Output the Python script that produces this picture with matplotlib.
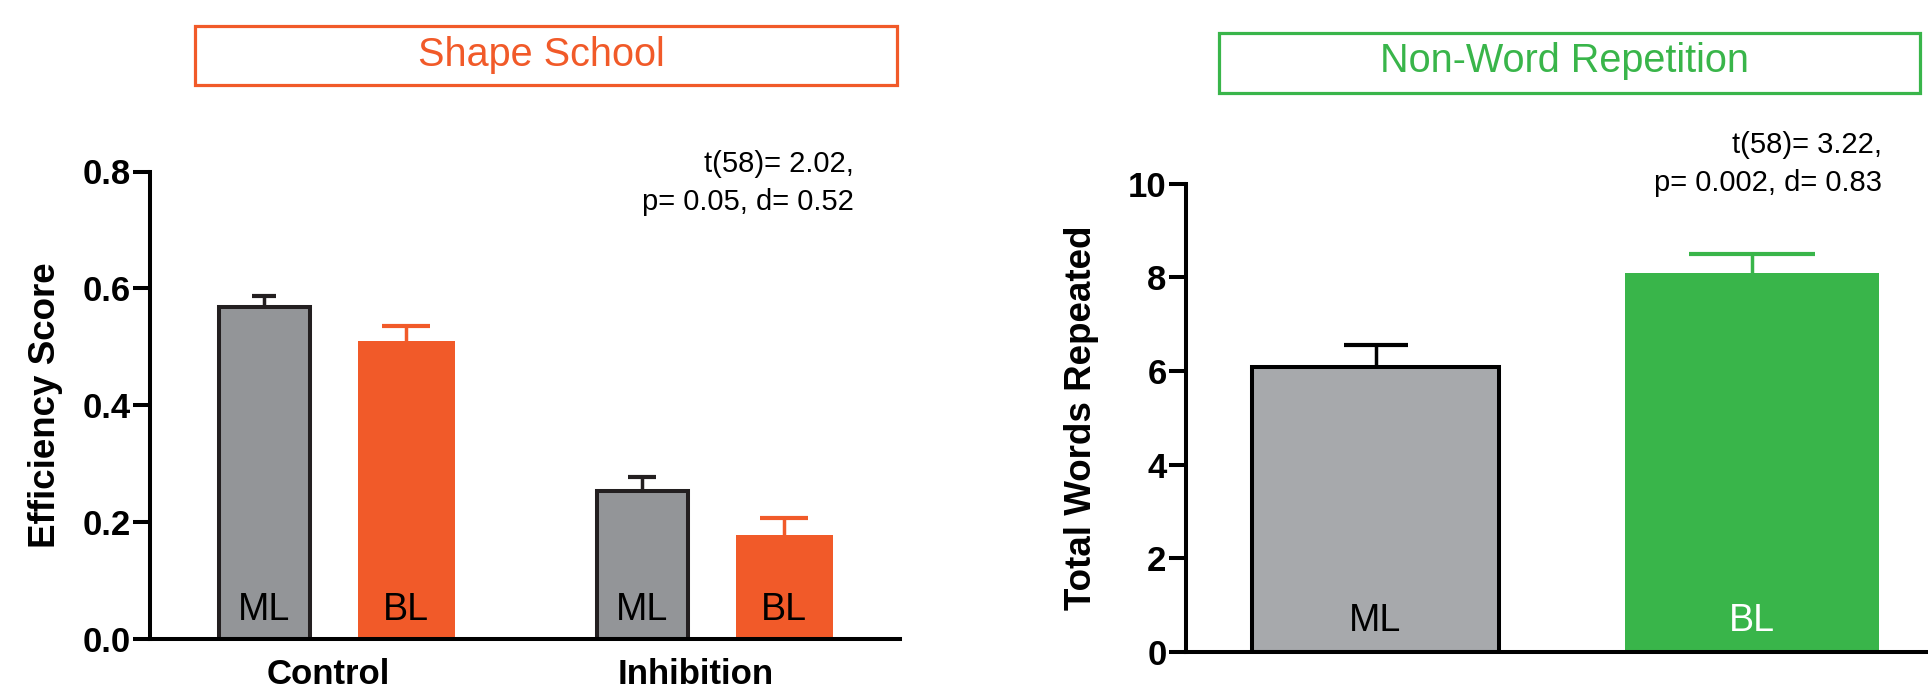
import numpy as np
import matplotlib
matplotlib.use("Agg")
import matplotlib.pyplot as plt
from matplotlib.patches import Rectangle

plt.rcParams['font.family'] = ['Liberation Sans', 'DejaVu Sans']

# Shape School data (efficiency score, mean + SEM)
groups = ["Control", "Inhibition"]
shape_ml = [0.568, 0.252]
shape_ml_err = [0.019, 0.024]
shape_bl = [0.510, 0.178]
shape_bl_err = [0.026, 0.029]
shape_stats = ["t(58)= 2.02,", "p= 0.05, d= 0.52"]

# Non-Word Repetition data (total words repeated, mean + SEM)
nwr_groups = ["ML", "BL"]
nwr_means = [6.08, 8.10]
nwr_err = [0.48, 0.39]
nwr_stats = ["t(58)= 3.22,", "p= 0.002, d= 0.83"]

gray1 = "#939598"
gray2 = "#a7a9ac"
orange = "#f15a29"
green = "#39b54a"
dark = "#231f20"

W, H = 1928, 693
fig = plt.figure(figsize=(W / 100, H / 100), dpi=100)

ax1 = fig.add_axes([150 / W, 1 - 638.5 / H, 750 / W, 467 / H])
ax2 = fig.add_axes([1186 / W, 1 - 651.8 / H, 1 - 1186 / W, 468.2 / H])

for ax in (ax1, ax2):
    for s in ("top", "right"):
        ax.spines[s].set_visible(False)
    for s in ("left", "bottom"):
        ax.spines[s].set_linewidth(2.9)
        ax.spines[s].set_color("black")
    ax.tick_params(axis="y", length=12, width=2.9, pad=2, labelsize=25)
    ax.tick_params(axis="x", length=0, labelsize=25, pad=14)


def up_err(ax, x, y, e, color, cap):
    # one-sided (upward) error bar, lower cap hidden
    _, caps, _ = ax.errorbar(x, y, yerr=[[0], [e]], fmt="none", ecolor=color,
                             elinewidth=2.5, capsize=cap, capthick=3, zorder=1)
    caps[0].set_visible(False)


# ---- left panel: Shape School
centers = np.array([1.85, 5.63])
off = 0.71
x_ml = centers - off
x_bl = centers + off
ax1.bar(x_ml, shape_ml, width=0.91, color=gray1, edgecolor=dark, linewidth=2.9, zorder=2)
ax1.bar(x_bl, shape_bl, width=0.97, color=orange, edgecolor="none", zorder=2)
caps_ml = [8.8, 10.4]
caps_bl = [17.3, 17.3]
for i in range(2):
    up_err(ax1, x_ml[i], shape_ml[i], shape_ml_err[i], dark, caps_ml[i])
    up_err(ax1, x_bl[i], shape_bl[i], shape_bl_err[i], orange, caps_bl[i])
    ax1.annotate("ML", xy=(x_ml[i], 0), xytext=(0, 13.5), textcoords="offset points",
                 ha="center", va="baseline", fontsize=27, color="black", zorder=3)
    ax1.annotate("BL", xy=(x_bl[i], 0), xytext=(0, 13.5), textcoords="offset points",
                 ha="center", va="baseline", fontsize=27, color="black", zorder=3)

ax1.set_xlim(0, 7.5)
ax1.set_ylim(0, 0.8)
ax1.set_yticks([0, 0.2, 0.4, 0.6, 0.8])
ax1.set_yticklabels(["0.0", "0.2", "0.4", "0.6", "0.8"], fontweight="bold", fontsize=25)
ax1.set_xticks([1.78, 5.46])
ax1.set_xticklabels(groups, fontweight="bold", fontsize=25)
ax1.set_ylabel("Efficiency Score", fontsize=26.5, fontweight="bold", va="center")
ax1.yaxis.set_label_coords(-0.139, 0.5)

# ---- right panel: Non-Word Repetition
xr = np.array([1.895, 5.66])
ax2.bar(xr[0], nwr_means[0], width=2.47, color=gray2, edgecolor="black", linewidth=2.9, zorder=2)
ax2.bar(xr[1], nwr_means[1], width=2.535, color=green, edgecolor="none", zorder=2)
up_err(ax2, xr[0], nwr_means[0], nwr_err[0], "black", 22.7)
up_err(ax2, xr[1], nwr_means[1], nwr_err[1], green, 45.4)
ax2.annotate(nwr_groups[0], xy=(xr[0], 0), xytext=(0, 15), textcoords="offset points",
             ha="center", va="baseline", fontsize=27, color="black", zorder=3)
ax2.annotate(nwr_groups[1], xy=(xr[1], 0), xytext=(0, 15), textcoords="offset points",
             ha="center", va="baseline", fontsize=27, color="white", zorder=3)

ax2.set_xlim(0, 7.42)
ax2.set_ylim(0, 10)
ax2.set_yticks([0, 2, 4, 6, 8, 10])
ax2.set_yticklabels(["0", "2", "4", "6", "8", "10"], fontweight="bold", fontsize=25)
ax2.set_xticks([])
ax2.set_ylabel("Total Words Repeated", fontsize=26.5, fontweight="bold", va="center")
ax2.yaxis.set_label_coords(-0.1415, 0.5)

# stats text (one line at a time, baselines)
for line, yb in zip(shape_stats, [172.5, 210.5]):
    fig.text(854 / W, 1 - yb / H, line, ha="right", va="baseline", fontsize=21)
for line, yb in zip(nwr_stats, [153, 191]):
    fig.text(1882 / W, 1 - yb / H, line, ha="right", va="baseline", fontsize=21)

# title boxes
fig.patches.append(Rectangle((195 / W, 1 - 85 / H), 702 / W, 59 / H, transform=fig.transFigure,
                             fill=False, edgecolor=orange, linewidth=2.3))
fig.text(541 / W, 1 - 55 / H, "Shape School", ha="center", va="center", fontsize=28.5, color=orange)
fig.patches.append(Rectangle((1219 / W, 1 - 93 / H), 701 / W, 60 / H, transform=fig.transFigure,
                             fill=False, edgecolor=green, linewidth=2.3))
fig.text(1565 / W, 1 - 61 / H, "Non-Word Repetition", ha="center", va="center", fontsize=28.5, color=green)

fig.savefig("out.png", dpi=100)
